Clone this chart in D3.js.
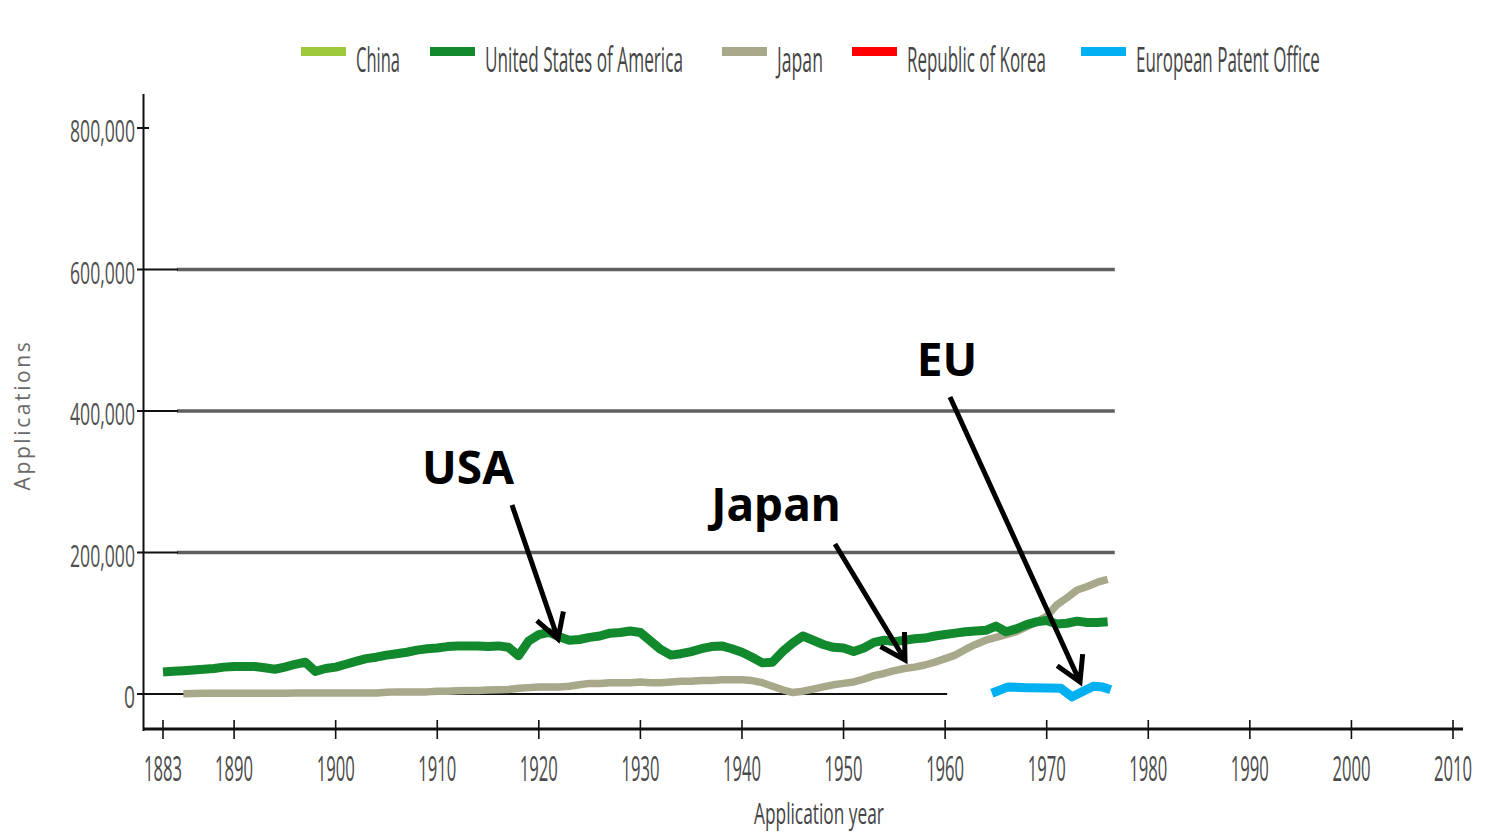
<!DOCTYPE html>
<html>
<head>
<meta charset="utf-8">
<script src="https://cdn.jsdelivr.net/npm/d3@7/dist/d3.min.js"></script>
<style>
  html, body { margin: 0; padding: 0; background: #fff; }
  svg { display: block; }
</style>
</head>
<body>
<svg id="chart" width="1489" height="835"></svg>
<script>
// ---------------- DATA ----------------
const seriesNames = ["China", "United States of America", "Japan", "Republic of Korea", "European Patent Office"];
const seriesColors = ["#9dc93b", "#13892e", "#a8a88a", "#ff0000", "#00b0f0"];

const xTickYears = [1883, 1890, 1900, 1910, 1920, 1930, 1940, 1950, 1960, 1970, 1980, 1990, 2000, 2010];
const yTickValues = [0, 200000, 400000, 600000, 800000];
const yTickLabels = ["0", "200,000", "400,000", "600,000", "800,000"];

const chinaYears = [];
const chinaValues = [];
const koreaYears = [];
const koreaValues = [];

const usaYears = [1883,1884,1885,1886,1887,1888,1889,1890,1891,1892,1893,1894,1895,1896,1897,1898,1899,1900,
  1901,1902,1903,1904,1905,1906,1907,1908,1909,1910,1911,1912,1913,1914,1915,1916,1917,1918,1919,1920,
  1921,1922,1923,1924,1925,1926,1927,1928,1929,1930,1931,1932,1933,1934,1935,1936,1937,1938,1939,1940,
  1941,1942,1943,1944,1945,1946,1947,1948,1949,1950,1951,1952,1953,1954,1955,1956,1957,1958,1959,1960,
  1961,1962,1963,1964,1965,1966,1967,1968,1969,1970,1971,1972,1973,1974,1975,1976];
const usaValues = [31000,32000,33000,34000,35000,36000,38000,39000,39000,39000,37000,35000,38000,42000,45000,32000,36000,38000,
  42000,46000,50000,52000,55000,57000,59000,62000,64000,65000,67000,68000,68000,68000,67000,68000,66000,54000,75000,84000,
  87000,81000,76000,77000,80000,82000,86000,87000,89000,87000,75000,63000,55000,57000,60000,64000,67000,68000,64000,59000,
  52000,44000,45000,60000,72000,82000,76000,70000,66000,65000,60000,65000,73000,76000,74000,76000,78000,79000,82000,84000,
  86000,88000,89000,90000,96000,88000,92000,98000,102000,104000,99000,100000,103000,101000,101000,102000];

const japanYears = [1885,1886,1887,1888,1889,1890,1891,1892,1893,1894,1895,1896,1897,1898,1899,1900,
  1901,1902,1903,1904,1905,1906,1907,1908,1909,1910,1911,1912,1913,1914,1915,1916,1917,1918,1919,1920,
  1921,1922,1923,1924,1925,1926,1927,1928,1929,1930,1931,1932,1933,1934,1935,1936,1937,1938,1939,1940,
  1941,1942,1943,1944,1945,1946,1947,1948,1949,1950,1951,1952,1953,1954,1955,1956,1957,1958,1959,1960,
  1961,1962,1963,1964,1965,1966,1967,1968,1969,1970,1971,1972,1973,1974,1975,1976];
const japanValues = [500,800,1000,1000,1000,1000,1000,1000,1000,1000,1000,1500,1500,1500,1500,1500,
  1500,1500,1500,1500,2500,3000,3000,3000,3000,4000,4000,4500,5000,5000,5500,6000,6500,8000,9000,10000,
  10000,10000,11000,13000,15000,15000,16000,16000,16000,17000,16000,16000,17000,18000,18000,19000,19000,20000,20000,20000,
  19000,16000,11000,6000,2000,4000,7000,10000,13000,15000,17000,21000,26000,29000,33000,36000,38000,41000,45000,50000,
  55000,63000,70000,76000,80000,84000,88000,95000,102000,110000,126000,136000,147000,152000,158000,162000];

const epoYears = [1964.6, 1966.2, 1968, 1970, 1971.4, 1972.5, 1974.6, 1975.5, 1976.3];
const epoValues = [1000, 10000, 9000, 8500, 8000, -4000, 11000, 10000, 6000];

const annotationLabels = ["USA", "Japan", "EU"];

// ---------------- LAYOUT ----------------
const svg = d3.select("#chart");
const x = d3.scaleLinear().domain([1883, 2010]).range([163, 1453]);
const y = d3.scaleLinear().domain([0, 800000]).range([694, 128]);

const axisColor = "#111";
const labelFont = "'Open Sans', 'Noto Sans', sans-serif";

// condensed text: natural glyphs squeezed horizontally to a target width
function condensedText(tx, ty, str, size, width, anchor, fill) {
  const g = svg.append("g").attr("transform", `translate(${tx},${ty})`);
  const t = g.append("text")
    .attr("font-family", labelFont)
    .attr("font-size", size)
    .attr("fill", fill)
    .text(str);
  const natural = t.node().getComputedTextLength();
  const sx = width / natural;
  let dx = 0;
  if (anchor === "middle") dx = -width / 2;
  if (anchor === "end") dx = -width;
  g.attr("transform", `translate(${tx + dx},${ty}) scale(${sx},1)`);
  return t;
}

// Grid lines (gray, partial width) for 200k..600k
const gridEndYear = 1976.7;
yTickValues.filter(v => v > 0 && v < 800000).forEach(v => {
  svg.append("line")
    .attr("x1", 177).attr("x2", x(gridEndYear))
    .attr("y1", y(v)).attr("y2", y(v))
    .attr("stroke", "#5f5f5f").attr("stroke-width", 3.5);
  svg.append("line")
    .attr("x1", 137).attr("x2", 178)
    .attr("y1", y(v)).attr("y2", y(v))
    .attr("stroke", axisColor).attr("stroke-width", 2);
});
// zero line
svg.append("line")
  .attr("x1", 137).attr("x2", x(1960.2))
  .attr("y1", y(0)).attr("y2", y(0))
  .attr("stroke", axisColor).attr("stroke-width", 2);
// 800k tick
svg.append("line")
  .attr("x1", 137).attr("x2", 149)
  .attr("y1", y(800000)).attr("y2", y(800000))
  .attr("stroke", axisColor).attr("stroke-width", 2);

// Y axis line
svg.append("line")
  .attr("x1", 143.5).attr("x2", 143.5)
  .attr("y1", 94).attr("y2", 731)
  .attr("stroke", axisColor).attr("stroke-width", 2);

// X axis line
svg.append("line")
  .attr("x1", 143).attr("x2", 1463)
  .attr("y1", 729).attr("y2", 729)
  .attr("stroke", axisColor).attr("stroke-width", 3);

// X ticks
xTickYears.forEach(t => {
  svg.append("line")
    .attr("x1", x(t)).attr("x2", x(t))
    .attr("y1", 720).attr("y2", 739)
    .attr("stroke", axisColor).attr("stroke-width", 1.6);
  condensedText(x(t), 781, String(t), 34, 38, "middle", "#4a4a4a");
});

// Y tick labels
yTickValues.forEach((v, i) => {
  const lab = yTickLabels[i];
  condensedText(135, y(v) + 14, lab, 31, lab.length === 1 ? 11 : 65, "end", "#505050");
});

// Axis titles
condensedText(819, 824, "Application year", 29, 130, "middle", "#444");

svg.append("text")
  .attr("transform", "translate(30,415) rotate(-90)")
  .attr("text-anchor", "middle")
  .attr("font-family", labelFont)
  .attr("font-size", 21)
  .attr("letter-spacing", 2.6)
  .attr("fill", "#6a6a6a")
  .text("Applications");

// ---------------- LINES ----------------
const line = d3.line().x(d => x(d[0])).y(d => y(d[1])).curve(d3.curveLinear);
function drawSeries(years, values, color, width) {
  if (!years.length) return;
  const pts = years.map((yr, i) => [yr, values[i]]);
  svg.append("path")
    .datum(pts)
    .attr("d", line)
    .attr("fill", "none")
    .attr("stroke", color)
    .attr("stroke-width", width)
    .attr("stroke-linejoin", "round")
    .attr("stroke-linecap", "butt");
}
drawSeries(chinaYears, chinaValues, seriesColors[0], 8);
drawSeries(koreaYears, koreaValues, seriesColors[3], 8);
drawSeries(japanYears, japanValues, seriesColors[2], 7.5);
drawSeries(usaYears, usaValues, seriesColors[1], 9);
drawSeries(epoYears, epoValues, seriesColors[4], 9);

// ---------------- LEGEND ----------------
const legendSwatchX = [301, 430, 722, 852, 1081];
const legendTextLen = [44, 198, 46, 139, 184];
seriesNames.forEach((name, i) => {
  svg.append("rect")
    .attr("x", legendSwatchX[i]).attr("y", 47)
    .attr("width", 45).attr("height", 9)
    .attr("fill", seriesColors[i]);
  condensedText(legendSwatchX[i] + 55, 72, name, 34, legendTextLen[i], "start", "#454545");
});

// ---------------- ANNOTATIONS ----------------
const annFont = "'Noto Sans', 'Open Sans', sans-serif";
const annPos = [[468, 484], [776, 521], [947, 376]];
annotationLabels.forEach((t, i) => {
  svg.append("text")
    .attr("x", annPos[i][0]).attr("y", annPos[i][1])
    .attr("text-anchor", "middle")
    .attr("font-family", annFont)
    .attr("font-weight", "bold")
    .attr("font-size", 46)
    .attr("fill", "#000")
    .text(t);
});

function arrow(x1, y1, x2, y2) {
  const ang = Math.atan2(y2 - y1, x2 - x1);
  const L = 28, spread = Math.PI / 6;
  const a1 = [x2 - L * Math.cos(ang - spread), y2 - L * Math.sin(ang - spread)];
  const a2 = [x2 - L * Math.cos(ang + spread), y2 - L * Math.sin(ang + spread)];
  svg.append("path")
    .attr("d", `M${x1},${y1}L${x2},${y2}M${a1[0]},${a1[1]}L${x2},${y2}L${a2[0]},${a2[1]}`)
    .attr("fill", "none")
    .attr("stroke", "#000")
    .attr("stroke-width", 5)
    .attr("stroke-linecap", "butt")
    .attr("stroke-linejoin", "miter");
}
arrow(512, 505, 558, 639);
arrow(835, 544, 905, 660);
arrow(950, 397, 1080, 682);
</script>
</body>
</html>
